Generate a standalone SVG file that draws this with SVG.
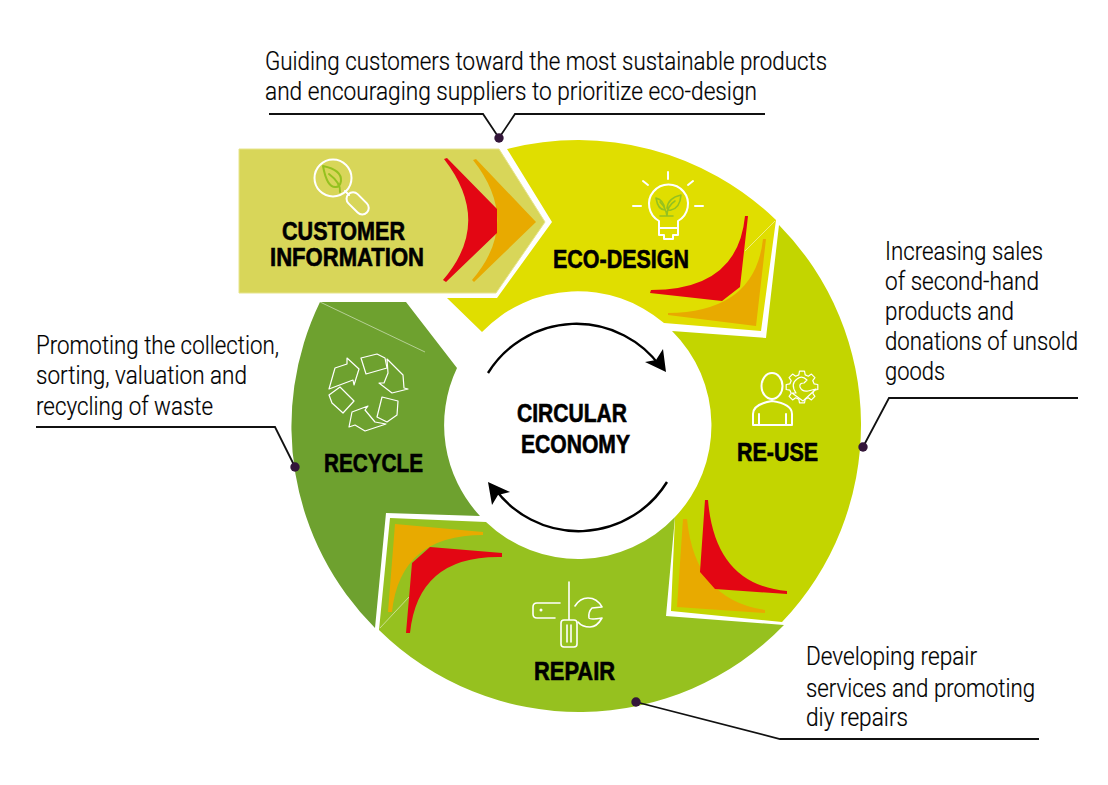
<svg xmlns="http://www.w3.org/2000/svg" width="1108" height="785" viewBox="0 0 1108 785">
<style>
.l{font-family:"Liberation Sans",Arial,sans-serif;font-weight:700;font-size:25px;fill:#000;stroke:#000;stroke-width:.6}
.t{font-family:Roboto,"Liberation Sans",Arial,sans-serif;font-weight:300;font-size:25px;fill:#000;stroke:#000;stroke-width:.2}
.r{fill:#e30613}.o{fill:#e8aa00}
.i{fill:none;stroke:#fff;stroke-width:2;stroke-linejoin:round;stroke-linecap:round}
.n{fill:none;stroke:#fff;stroke-width:1.2;stroke-linejoin:round}
.g{fill:none;stroke:#95c11f;stroke-width:1.6;stroke-linejoin:round;stroke-linecap:round}
.h{fill:none;stroke:#fff;stroke-width:.7;opacity:.7}
.c{fill:none;stroke:#111;stroke-width:1.8}
.d{fill:#33163a}
.a{fill:none;stroke:#000;stroke-width:2.4}
</style>
<rect width="1108" height="785" fill="#fff"/>
<g id="node-recycle">
<path fill="#6ea12f" d="M320 302L406 302L457 368A133 133 0 0 0 480 516L386 513L375 628A285 285 0 0 1 320 302Z"/>
<path class="h" d="M320 302L425 352"/>
<path class="n" d="M361 358L377 354L385 358L387 368L366 374Z"/>
<path class="n" d="M387 359L403 375L404 388L408 389L392 393L379 383L384 383L388 373Z"/>
<path class="n" d="M382 397L398 401L397 415L387 422L377 417Z"/>
<path class="n" d="M386 424L365 431L355 425L349 427L352 412L368 406L365 410L375 422Z"/>
<path class="n" d="M340 387L354 401L343 413L332 403L329 395Z"/>
<path class="n" d="M329 389L335 368L347 364L347 358L359 369L354 385L353 380Z"/>
<text class="l" x="324" y="472" textLength="99" lengthAdjust="spacingAndGlyphs">RECYCLE</text>
</g>
<g id="node-repair">
<path fill="#96c11f" d="M784 625A285 285 0 0 1 379 630L390 518L486 522A133 133 0 0 0 675 517L666 616Z"/>
<path class="o" d="M395 524L483 532L483 535Q400 535 392 612L388 612Z"/>
<path class="r" d="M430 547L502 553L502 557Q418 555 410 633L406 633L412 563Z"/>
<path class="h" d="M380 628L409 597"/>
<path class="i" d="M569 582V620M561 623a3 3 0 0 1 3-3h10a3 3 0 0 1 3 3v21a3 3 0 0 1-3 3h-10a3 3 0 0 1-3-3ZM567 625V642M571 625V642" style="stroke-width:1.6"/>
<path class="i" d="M560 603H537Q533 603 533 607V614Q533 618 537 618H555M575 606Q580 598 588 598Q597 598 602 607L592 608Q588 612 589 618Q590 620 602 618Q597 627 590 627Q582 627 578 622" style="stroke-width:1.6"/>
<circle cx="541" cy="610" r="1.5" fill="#fff"/>
<text class="l" x="534" y="680" textLength="81" lengthAdjust="spacingAndGlyphs">REPAIR</text>
</g>
<g id="node-re-use">
<path fill="#c3d500" d="M779 225A285 285 0 0 1 782 622L671 611L675 517A133 133 0 0 0 672 331L766 338Z"/>
<path class="o" d="M683 519L687 519Q695 600 765 610L765 613L677 607Z"/>
<path class="r" d="M705 500L708 500Q715 585 787 591L787 594L715 589L700 572Z"/>
<ellipse class="i" cx="772" cy="386" rx="10.5" ry="13"/>
<path class="i" d="M753 425V414Q753 404 772 401Q792 404 792 414V425ZM759 414V425M786 414V425"/>
<path class="n" transform="translate(802 387)" d="M10.8 6.3L12.9 9.4L9.4 12.9L6.3 10.8L3.2 12.1L2.5 15.8L-2.5 15.8L-3.2 12.1L-6.3 10.8L-9.4 12.9L-12.9 9.4L-10.8 6.3L-12.1 3.2L-15.8 2.5L-15.8 -2.5L-12.1 -3.2L-10.8 -6.3L-12.9 -9.4L-9.4 -12.9L-6.3 -10.8L-3.2 -12.1L-2.5 -15.8L2.5 -15.8L3.2 -12.1L6.3 -10.8L9.4 -12.9L12.9 -9.4L10.8 -6.3L12.1 -3.2L15.8 -2.5L15.8 2.5L12.1 3.2Z"/>
<path class="n" style="fill:#c3d500" d="M807 380Q802 375 797 379Q790 384 796 393L792 393L803 401L816 389L808 391Q802 392 800 387Q799 383 804 383Z"/>
<text class="l" x="737" y="461" textLength="81" lengthAdjust="spacingAndGlyphs">RE-USE</text>
</g>
<g id="node-eco-design">
<path fill="#e0de00" d="M507 149A285 285 0 0 1 776 220L761 331L664 323A133 133 0 0 0 482 332L447 298L497 298L552 222Z"/>
<path class="h" d="M775 221L745 251"/>
<path class="o" d="M763 239L766 239L756 326L668 315L668 313Q755 312 763 239Z"/>
<path class="r" d="M745 216L748 216L740 287L722 301L650 293L651 290Q738 290 745 216Z"/>
<path class="i" d="M659 221A19.5 19.5 0 1 1 678 221V235H673V239H664V235H659ZM659 228H678M668 172V179M643 181L648 185M693 181L688 185M633 206H641M695 206H703"/>
<path class="g" d="M667 208Q668 198 681 195Q680 208 671 210Q668 211 667 208ZM656 198Q664 200 665 210Q658 210 656 198ZM667 216Q667 206 675 201M667 216Q666 208 660 202M660 216H673"/>
<text class="l" x="553" y="268" textLength="136" lengthAdjust="spacingAndGlyphs">ECO-DESIGN</text>
</g>
<g id="node-customer-information">
<path fill="#d8d659" stroke="#e6e48c" stroke-width="1" d="M239 149H499L545 222L496 293H239Z"/>
<path class="o" d="M473 160L476 159L536 222L474 282L472 280Q522 222 473 160Z"/>
<path class="r" d="M444 159L447 158L497 209L497 233L446 282L443 280Q493 222 444 159Z"/>
<circle class="i" cx="333" cy="178" r="18.5"/>
<path class="i" d="M345 191L349 195"/>
<rect class="i" x="345" y="197" width="26" height="13" rx="6.5" transform="rotate(45 358 203)"/>
<path class="g" d="M323 166Q342 170 341 181Q340 187 336 187Q327 188 323 166ZM329 174Q341 183 340 192" style="stroke-width:2"/>
<text class="l" x="282" y="240" textLength="123" lengthAdjust="spacingAndGlyphs">CUSTOMER</text>
<text class="l" x="270" y="266" textLength="154" lengthAdjust="spacingAndGlyphs">INFORMATION</text>
</g>
<g id="node-circular-economy">
<text class="l" x="517" y="422" textLength="110" lengthAdjust="spacingAndGlyphs">CIRCULAR</text>
<text class="l" x="521" y="453" textLength="109" lengthAdjust="spacingAndGlyphs">ECONOMY</text>
</g>
<g id="connectors">
<path class="a" d="M488 373A104 104 0 0 1 660 366"/>
<path d="M666 372L663 349L656 360L645 362Z"/>
<path class="a" d="M667 482A104 104 0 0 1 495 489"/>
<path d="M488 482L510 492L498 495L492 505Z"/>
<path class="c" d="M269 114H483L499 138L515 114H765"/>
<circle class="d" cx="499" cy="138" r="4.7"/>
<path class="c" d="M863 447L889 398H1078"/>
<circle class="d" cx="863" cy="447" r="4.7"/>
<path class="c" d="M636 702L780 739H1039"/>
<circle class="d" cx="636" cy="702" r="4.7"/>
<path class="c" d="M295 467L275 427H36"/>
<circle class="d" cx="295" cy="467" r="4.7"/>
</g>
<g id="labels">
<text class="t" x="265" y="70" textLength="562" lengthAdjust="spacingAndGlyphs">Guiding customers toward the most sustainable products</text>
<text class="t" x="265" y="100" textLength="492" lengthAdjust="spacingAndGlyphs">and encouraging suppliers to prioritize eco-design</text>
<text class="t" x="885" y="260" textLength="158" lengthAdjust="spacingAndGlyphs">Increasing sales</text>
<text class="t" x="885" y="290" textLength="154" lengthAdjust="spacingAndGlyphs">of second-hand</text>
<text class="t" x="885" y="320" textLength="129" lengthAdjust="spacingAndGlyphs">products and</text>
<text class="t" x="885" y="350" textLength="193" lengthAdjust="spacingAndGlyphs">donations of unsold</text>
<text class="t" x="885" y="380" textLength="60" lengthAdjust="spacingAndGlyphs">goods</text>
<text class="t" x="806" y="665" textLength="171" lengthAdjust="spacingAndGlyphs">Developing repair</text>
<text class="t" x="806" y="697" textLength="229" lengthAdjust="spacingAndGlyphs">services and promoting</text>
<text class="t" x="806" y="726" textLength="102" lengthAdjust="spacingAndGlyphs">diy repairs</text>
<text class="t" x="36" y="354" textLength="243" lengthAdjust="spacingAndGlyphs">Promoting the collection,</text>
<text class="t" x="36" y="384" textLength="211" lengthAdjust="spacingAndGlyphs">sorting, valuation and</text>
<text class="t" x="36" y="415" textLength="177" lengthAdjust="spacingAndGlyphs">recycling of waste</text>
</g>
</svg>
